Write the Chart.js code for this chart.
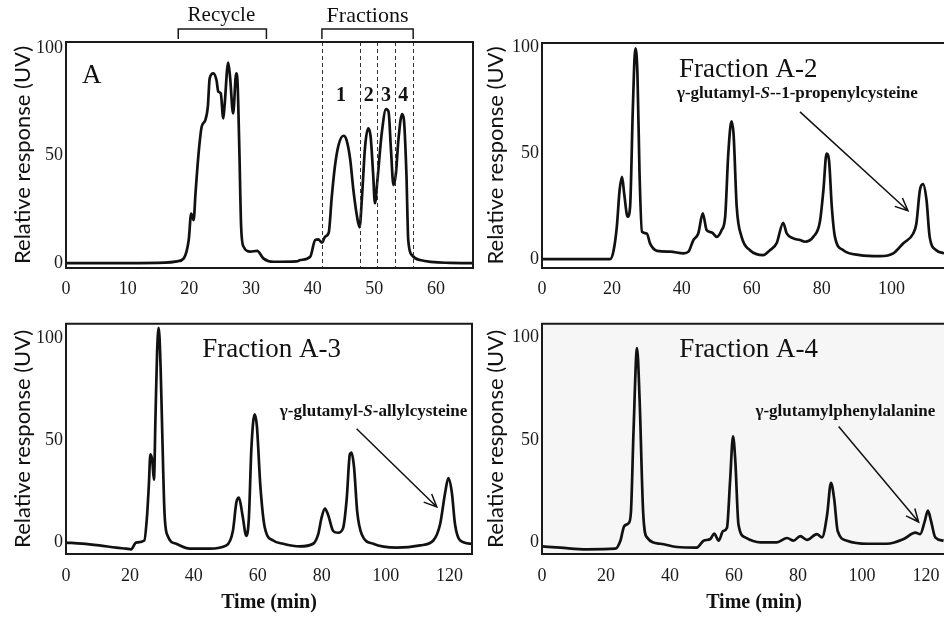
<!DOCTYPE html>
<html>
<head>
<meta charset="utf-8">
<script src="https://cdn.jsdelivr.net/npm/chart.js@4.4.1/dist/chart.umd.min.js"></script>
<style>
  html, body { margin: 0; padding: 0; background: #fff; overflow: hidden; }
  #wrap { position: relative; width: 944px; height: 621px; overflow: hidden; }
  canvas { position: absolute; }
</style>
</head>
<body>
<div id="wrap">
  <canvas id="chartA" width="475" height="310" style="left:0;top:0"></canvas>
  <canvas id="chartB" width="474" height="310" style="left:470px;top:0"></canvas>
  <canvas id="chartC" width="475" height="311" style="left:0;top:310px"></canvas>
  <canvas id="chartD" width="496" height="311" style="left:470px;top:310px"></canvas>
</div>
<script>
// chromatograms: time (min) and relative response (UV)
var timeA = [0, 10, 16, 18, 19.1, 19.9, 20.3, 20.7, 21.0, 21.5, 22.0, 22.6, 23.0, 23.3, 23.9, 24.4, 24.7, 25.1, 25.5, 25.7, 26.3, 26.6, 27.1, 27.6, 27.8, 28.1, 28.4, 28.8, 29.9, 31.0, 32.0, 33.6, 37.4, 38.0, 39.6, 40.4, 40.9, 41.5, 42.0, 42.6, 43.1, 43.6, 44.2, 45.0, 45.5, 46.1, 46.6, 47.2, 47.6, 48.0, 48.5, 49.0, 49.4, 49.8, 50.1, 50.5, 51.2, 51.9, 52.3, 52.7, 53.1, 53.5, 53.9, 54.5, 54.8, 55.2, 55.5, 56.1, 57.4, 62.3, 66];
var respA = [0, 0, 0.2, 0.8, 2.2, 10.7, 23, 20, 32.4, 51, 63.4, 66.5, 72.7, 85.9, 88.2, 85.1, 79.7, 78.9, 67.3, 72.7, 93.2, 86.7, 69.6, 88.2, 85.1, 54, 16.9, 7.6, 5.3, 5.7, 2.2, 0.6, 0.8, 1.4, 2.9, 10.7, 11, 9.5, 12.2, 14.1, 30.9, 44.8, 54.9, 59.2, 57.2, 47.9, 34, 21.5, 16.6, 30.9, 54.1, 62.6, 58.8, 41.7, 27.8, 38.6, 60.3, 71.6, 70.4, 52.6, 36.3, 41.7, 57.2, 69.3, 66.5, 41.7, 10.7, 3.7, 1.4, 0.1, 0];

var timeB = [0, 19.5, 20.5, 21.4, 22.2, 22.9, 23.5, 24.5, 25.2, 26.0, 26.7, 27.3, 27.9, 28.6, 30.0, 30.9, 32.9, 36.7, 40.5, 41.9, 43.3, 44.7, 46.0, 47.1, 48.6, 50.0, 51.4, 52.4, 53.3, 54.2, 54.8, 55.7, 57.1, 59.5, 63.3, 65.2, 67.1, 69.0, 70.0, 71.9, 73.8, 75.2, 77.6, 79.5, 80.5, 81.4, 82.1, 82.9, 83.8, 86.2, 90.9, 96.7, 100.5, 103.3, 106.2, 107.1, 108.1, 109.0, 110.0, 110.9, 112.8, 115];
var respB = [0, 0, 4.2, 15.2, 32.5, 38.8, 31, 20, 24.7, 71.8, 99.5, 87.6, 40.4, 12.9, 12.1, 7.4, 3.9, 3.5, 2.7, 3.5, 9, 12.1, 21.6, 13.7, 12.6, 10.5, 13.7, 20, 50, 65, 59, 24.7, 10.5, 4.2, 1.9, 4.2, 7.4, 17.1, 12.1, 9.8, 9, 8.2, 10.5, 17.6, 32.5, 49.8, 46.7, 24.7, 10.5, 4.2, 1.9, 1.4, 2.7, 7.4, 12.1, 16.8, 32.5, 35.4, 27.8, 10.5, 4.2, 2.7];

var timeC = [0, 5, 10.4, 15.7, 18.8, 20.4, 21.9, 24.5, 25.3, 25.9, 26.4, 27.0, 27.5, 28.0, 28.5, 29.0, 29.6, 30.1, 30.8, 31.8, 34.5, 38.7, 44.9, 50.2, 52.2, 53.3, 54.1, 55.2, 56.4, 57.2, 58.0, 59.0, 59.7, 60.8, 62.2, 64.8, 67.9, 73.1, 77.3, 78.9, 79.9, 81.0, 82.0, 83.6, 85.1, 86.7, 87.8, 88.8, 89.3, 90.1, 91.1, 92.5, 96.1, 103.4, 110.8, 114.9, 117.0, 118.6, 119.6, 120.7, 121.7, 123.3, 127];
var respC = [0, -0.5, -1.4, -2.5, -3, -3.3, 0, 1, 11.9, 27.6, 43.2, 40, 30.7, 62, 93.3, 105, 85.4, 54.2, 15, 3.3, -0.6, -3, -3, -1.4, 5.6, 19.7, 22, 13.5, 3.3, 11.9, 46.3, 62.7, 57.2, 27.6, 7.2, 1, -0.6, -1.9, -0.6, 4.1, 11.9, 16.6, 13.5, 5.6, 4.8, 7.2, 21.2, 43.2, 44, 36.9, 15, 4.1, -0.6, -2.5, -1.4, 1, 8.8, 24.4, 31.5, 24.4, 8.8, 1, -0.6];

var timeD = [0, 5.7, 14, 22.9, 24.5, 25.7, 27.1, 27.8, 28.6, 29.7, 30.5, 31.6, 32.8, 37.0, 42.2, 48.4, 50.5, 52.6, 53.8, 55.2, 56.6, 57.8, 58.8, 59.7, 60.4, 61.4, 63.5, 68.2, 73.4, 76.6, 78.6, 80.7, 82.8, 85.9, 87.5, 89.1, 90.3, 91.3, 92.4, 95.3, 101.6, 107.8, 113.0, 116.7, 118.2, 119.6, 120.6, 121.6, 122.9, 125.5];
var respD = [-1.9, -2.5, -3.3, -3, 0.9, 8, 9.5, 15, 54.1, 94.8, 69.8, 15, 2.5, -0.6, -2.2, -2.5, 0.9, 1.7, 4.4, 0.9, 5.6, 7.2, 30.7, 51.8, 40, 8.8, 2.5, 0.1, 0.1, 2.2, 0.9, 3.1, 1.3, 4.1, 2.5, 13.5, 29.1, 21.3, 5.6, 0.9, -0.6, -0.6, 1.7, 4.8, 4.1, 10.3, 15.5, 10.3, 2.5, 0.9];

// fraction cut times in panel A
var cutTimes = [41.5, 47.7, 50.4, 53.4, 56.3];
var fractionNames = ["1", "2", "3", "4"];

var SERIF = "'Liberation Serif', 'DejaVu Serif', serif";
var SANS = "Lato, 'Liberation Sans', sans-serif";

function drawParts(ctx, parts, x, y, align, baseline) {
    var total = 0;
    parts.forEach(function (p) {
        ctx.font = p.font;
        total += ctx.measureText(p.text).width;
    });
    var cx = align === "center" ? x - total / 2 : x;
    ctx.textAlign = "left";
    ctx.textBaseline = baseline || "alphabetic";
    parts.forEach(function (p) {
        ctx.font = p.font;
        ctx.fillText(p.text, cx, y);
        cx += ctx.measureText(p.text).width;
    });
}

var panelMarks = {
    id: "panelMarks",
    beforeDatasetsDraw: function (chart, args, opts) {
        if (!opts.fill) return;
        var a = chart.chartArea, ctx = chart.ctx;
        ctx.save();
        ctx.fillStyle = opts.fill;
        ctx.fillRect(a.left, a.top, a.right - a.left, a.bottom - a.top);
        ctx.restore();
    },
    afterDatasetsDraw: function (chart, args, opts) {
        var ctx = chart.ctx, a = chart.chartArea;
        var xs = chart.scales.x, ys = chart.scales.y;
        ctx.save();
        ctx.fillStyle = "#111";
        ctx.strokeStyle = "#333";

        // dashed fraction cuts
        ctx.lineWidth = 1;
        ctx.setLineDash([4, 3]);
        (opts.cuts || []).forEach(function (t) {
            var px = Math.round(xs.getPixelForValue(t)) + 0.5;
            ctx.beginPath();
            ctx.moveTo(px, a.top);
            ctx.lineTo(px, a.bottom);
            ctx.stroke();
        });
        ctx.setLineDash([]);

        // frame
        ctx.strokeStyle = "#1a1a1a";
        ctx.lineWidth = 2;
        ctx.beginPath();
        if (opts.frameRight) {
            ctx.moveTo(a.right, a.top);
            ctx.lineTo(a.left, a.top);
            ctx.lineTo(a.left, a.bottom);
            ctx.lineTo(a.right, a.bottom);
            ctx.closePath();
        } else {
            ctx.moveTo(a.right + 30, a.top);
            ctx.lineTo(a.left, a.top);
            ctx.lineTo(a.left, a.bottom);
            ctx.lineTo(a.right + 30, a.bottom);
        }
        ctx.stroke();

        // brackets above the plot
        ctx.lineWidth = 1.5;
        (opts.brackets || []).forEach(function (b) {
            var x1 = xs.getPixelForValue(b.from), x2 = xs.getPixelForValue(b.to);
            var yt = ys.getPixelForValue(b.top), yf = ys.getPixelForValue(b.foot);
            ctx.beginPath();
            ctx.moveTo(x1, yf);
            ctx.lineTo(x1, yt);
            ctx.lineTo(x2, yt);
            ctx.lineTo(x2, yf);
            ctx.stroke();
        });

        // arrows
        ctx.strokeStyle = "#111";
        ctx.lineWidth = 1.5;
        (opts.arrows || []).forEach(function (ar) {
            var x1 = xs.getPixelForValue(ar.from[0]), y1 = ys.getPixelForValue(ar.from[1]);
            var x2 = xs.getPixelForValue(ar.to[0]), y2 = ys.getPixelForValue(ar.to[1]);
            var ang = Math.atan2(y2 - y1, x2 - x1);
            ctx.beginPath();
            ctx.moveTo(x1, y1);
            ctx.lineTo(x2, y2);
            ctx.moveTo(x2 - 14 * Math.cos(ang - 0.42), y2 - 14 * Math.sin(ang - 0.42));
            ctx.lineTo(x2, y2);
            ctx.lineTo(x2 - 14 * Math.cos(ang + 0.42), y2 - 14 * Math.sin(ang + 0.42));
            ctx.stroke();
        });

        // texts
        (opts.texts || []).forEach(function (tx) {
            drawParts(ctx, tx.parts, xs.getPixelForValue(tx.x), ys.getPixelForValue(tx.y), tx.align, tx.baseline);
        });
        ctx.restore();
    }
};

function makeChart(id, times, resp, cfg) {
    var ctx = document.getElementById(id).getContext("2d");
    var points = times.map(function (t, i) {
        return { x: t, y: resp[i] };
    });
    return new Chart(ctx, {
        type: "line",
        data: {
            datasets: [
                {
                    data: points,
                    borderColor: "#111",
                    borderWidth: 2.7,
                    pointRadius: 0,
                    cubicInterpolationMode: "monotone",
                    fill: false,
                },
            ],
        },
        options: {
            responsive: false,
            animation: false,
            events: [],
            layout: { padding: cfg.padding },
            plugins: {
                legend: { display: false },
                tooltip: { enabled: false },
                panelMarks: cfg.marks,
            },
            scales: {
                x: {
                    type: "linear",
                    min: 0,
                    max: cfg.xMax,
                    grid: { display: false, drawTicks: false },
                    border: { display: false },
                    ticks: {
                        stepSize: cfg.xStep,
                        includeBounds: false,
                        padding: cfg.xTickPad,
                        color: "#1a1a1a",
                        maxRotation: 0,
                        font: { family: SERIF, size: 18 },
                    },
                    title: {
                        display: !!cfg.xTitle,
                        text: cfg.xTitle || "",
                        color: "#111",
                        font: { family: SERIF, size: 20, weight: "bold" },
                        padding: { top: 0, bottom: 6 },
                    },
                    afterFit: function (s) { s.height = cfg.xHeight; },
                },
                y: {
                    min: cfg.yMin,
                    max: cfg.yMax,
                    grid: { display: false, drawTicks: false },
                    border: { display: false },
                    ticks: {
                        stepSize: 50,
                        includeBounds: false,
                        padding: 3,
                        color: "#1a1a1a",
                        font: { family: SERIF, size: 18 },
                    },
                    title: {
                        display: true,
                        text: "Relative response (UV)",
                        color: "#111",
                        font: { family: SANS, size: 22 },
                        padding: { top: cfg.yTitlePad, bottom: 0 },
                    },
                    afterFit: function (s) { s.width = cfg.yWidth; },
                },
            },
        },
        plugins: [panelMarks],
    });
}

var bigFont = "27px " + SERIF;
var noteFont = "bold 17px " + SERIF;
var noteItalic = "italic bold 17px " + SERIF;

makeChart("chartA", timeA, respA, {
    padding: { left: 0, top: 42, right: 2, bottom: 0 },
    xMax: 66, xStep: 10, xTickPad: 10, xHeight: 42,
    yMin: -2.3, yMax: 102.8, yWidth: 66, yTitlePad: 10,
    marks: {
        frameRight: true,
        cuts: cutTimes,
        brackets: [
            { from: 18.2, to: 32.5, top: 108.8, foot: 104.2 },
            { from: cutTimes[0], to: cutTimes[4], top: 108.8, foot: 104.2 },
        ],
        texts: [
            { parts: [{ text: "A", font: bigFont }], x: 2.6, y: 83.7, align: "left" },
            { parts: [{ text: "Recycle", font: "21px " + SERIF }], x: 25.2, y: 114.9, align: "center", baseline: "middle" },
            { parts: [{ text: "Fractions", font: "22px " + SERIF }], x: 48.9, y: 114.9, align: "center", baseline: "middle" },
            { parts: [{ text: fractionNames[0], font: "bold 20px " + SERIF }], x: 44.6, y: 77.7, align: "center", baseline: "middle" },
            { parts: [{ text: fractionNames[1], font: "bold 20px " + SERIF }], x: 49.1, y: 77.7, align: "center", baseline: "middle" },
            { parts: [{ text: fractionNames[2], font: "bold 20px " + SERIF }], x: 51.9, y: 77.7, align: "center", baseline: "middle" },
            { parts: [{ text: fractionNames[3], font: "bold 20px " + SERIF }], x: 54.7, y: 77.7, align: "center", baseline: "middle" },
        ],
    },
});

makeChart("chartB", timeB, respB, {
    padding: { left: 0, top: 43, right: 0, bottom: 0 },
    xMax: 115, xStep: 20, xTickPad: 10, xHeight: 42,
    yMin: -4.2, yMax: 102, yWidth: 72, yTitlePad: 12.8,
    marks: {
        frameRight: false,
        texts: [
            { parts: [{ text: "Fraction A-2", font: bigFont }], x: 59, y: 86, align: "center" },
            {
                parts: [
                    { text: "γ-glutamyl-", font: noteFont },
                    { text: "S", font: noteItalic },
                    { text: "--1-propenylcysteine", font: noteFont },
                ],
                x: 38.6, y: 76.2, align: "left",
            },
        ],
        arrows: [{ from: [73.8, 69.5], to: [104.7, 22.8] }],
    },
});

makeChart("chartC", timeC, respC, {
    padding: { left: 0, top: 4, right: 3, bottom: 0 },
    xMax: 127, xStep: 20, xTickPad: 11, xHeight: 67, xTitle: "Time (min)",
    yMin: -5.6, yMax: 107, yWidth: 66, yTitlePad: 9.3,
    marks: {
        frameRight: true,
        texts: [
            { parts: [{ text: "Fraction A-3", font: bigFont }], x: 64.3, y: 90.9, align: "center" },
            {
                parts: [
                    { text: "γ-glutamyl-", font: noteFont },
                    { text: "S", font: noteItalic },
                    { text: "-allylcysteine", font: noteFont },
                ],
                x: 66.9, y: 62, align: "left",
            },
        ],
        arrows: [{ from: [90.9, 55.7], to: [116, 17.4] }],
    },
});

makeChart("chartD", timeD, respD, {
    padding: { left: 0, top: 5, right: 0, bottom: 0 },
    xMax: 132.5, xStep: 20, xTickPad: 11, xHeight: 67, xTitle: "Time (min)",
    yMin: -5.6, yMax: 106.6, yWidth: 72, yTitlePad: 12.8,
    marks: {
        frameRight: false,
        fill: "#f6f6f6",
        texts: [
            { parts: [{ text: "Fraction A-4", font: bigFont }], x: 64.6, y: 90.5, align: "center" },
            { parts: [{ text: "γ-glutamylphenylalanine", font: noteFont }], x: 66.7, y: 61.9, align: "left" },
        ],
        arrows: [{ from: [92.7, 56.5], to: [117.7, 10] }],
    },
});
</script>
</body>
</html>
